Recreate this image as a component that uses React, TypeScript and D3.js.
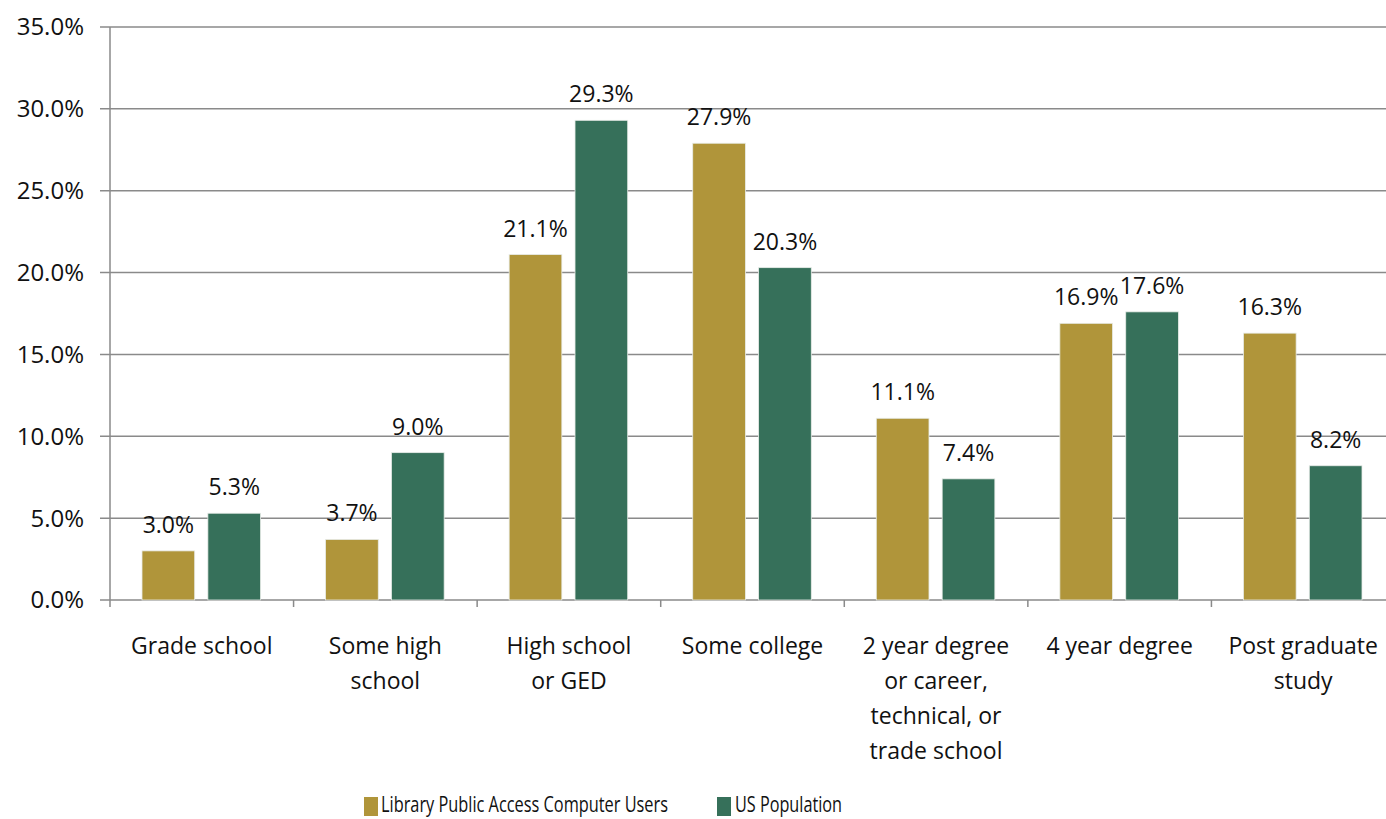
import React from "react";
import * as d3 from "d3";

const categories: string[][] = [
  ["Grade school"],
  ["Some high", "school"],
  ["High school", "or GED"],
  ["Some college"],
  ["2 year degree", "or career,", "technical, or", "trade school"],
  ["4 year degree"],
  ["Post graduate", "study"],
];
const libraryUsers = [3.0, 3.7, 21.1, 27.9, 11.1, 16.9, 16.3];
const usPopulation = [5.3, 9.0, 29.3, 20.3, 7.4, 17.6, 8.2];
const seriesNames = ["Library Public Access Computer Users", "US Population"];
const seriesColors = ["#B0953A", "#36705A"];
const yTicks = [0, 5, 10, 15, 20, 25, 30, 35];

const W = 1386;
const H = 819;
const FONT = "'Open Sans', sans-serif";

export default function App() {
  const x0 = d3
    .scaleBand<number>()
    .domain(categories.map((_, i) => i))
    .range([110, 1395])
    .paddingInner(0)
    .paddingOuter(0);
  const step = x0.bandwidth();
  const x1 = d3
    .scaleBand<number>()
    .domain([0, 1])
    .range([32, step - 33])
    .paddingInner(0.2)
    .paddingOuter(0);
  const y = d3.scaleLinear().domain([0, 35]).range([600, 27]);
  const series = [libraryUsers, usPopulation];
  const legendScale = 0.68;
  const legendItems = [
    { sx: 364, tx: 381, w: 287 },
    { sx: 717, tx: 735, w: 107 },
  ];

  return (
    <svg
      width={W}
      height={H}
      style={{ position: "absolute", left: 0, top: 0, background: "#fff" }}
      fontFamily={FONT}
    >
      {/* gridlines and y labels */}
      {yTicks.map((t) => (
        <g key={t}>
          <line x1={100} x2={W} y1={y(t)} y2={y(t)} stroke="#8a8a8a" strokeWidth={1.5} />
          <text x={84} y={y(t)} dy="0.35em" textAnchor="end" fontSize={24} fill="#111">
            {t.toFixed(1)}%
          </text>
        </g>
      ))}
      {/* y axis */}
      <line x1={110} x2={110} y1={y(35)} y2={607} stroke="#8a8a8a" strokeWidth={1.5} />
      {/* x ticks */}
      {categories.map((_, i) => (
        <line
          key={i}
          x1={(x0(i) as number) + step}
          x2={(x0(i) as number) + step}
          y1={600}
          y2={607}
          stroke="#8a8a8a"
          strokeWidth={1.5}
        />
      ))}
      {/* bars */}
      {categories.map((_, i) =>
        series.map((s, j) => {
          const bx = (x0(i) as number) + (x1(j) as number);
          const bw = x1.bandwidth();
          return (
            <g key={`${i}-${j}`}>
              <rect
                x={bx}
                y={y(s[i])}
                width={bw}
                height={y(0) - y(s[i])}
                fill={seriesColors[j]}
                stroke="#e8ece8"
                strokeWidth={0.8}
              />
              <text
                x={bx + bw / 2}
                y={y(s[i]) - 18}
                textAnchor="middle"
                fontSize={23}
                fill="#111"
              >
                {s[i].toFixed(1)}%
              </text>
            </g>
          );
        })
      )}
      {/* category labels */}
      {categories.map((lines, i) => (
        <text
          key={i}
          x={(x0(i) as number) + step / 2}
          y={654}
          textAnchor="middle"
          fontSize={23}
          fill="#111"
        >
          {lines.map((l, k) => (
            <tspan key={k} x={(x0(i) as number) + step / 2} dy={k === 0 ? 0 : 35}>
              {l}
            </tspan>
          ))}
        </text>
      ))}
      {/* legend */}
      {legendItems.map((it, j) => (
        <g key={j}>
          <rect x={it.sx} y={797} width={14} height={19} fill={seriesColors[j]} />
          <g transform={`translate(${it.tx},812) scale(${legendScale},1)`}>
            <text
              x={0}
              y={0}
              fontSize={22}
              fill="#111"
              textLength={it.w / legendScale}
              lengthAdjust="spacingAndGlyphs"
            >
              {seriesNames[j]}
            </text>
          </g>
        </g>
      ))}
    </svg>
  );
}
